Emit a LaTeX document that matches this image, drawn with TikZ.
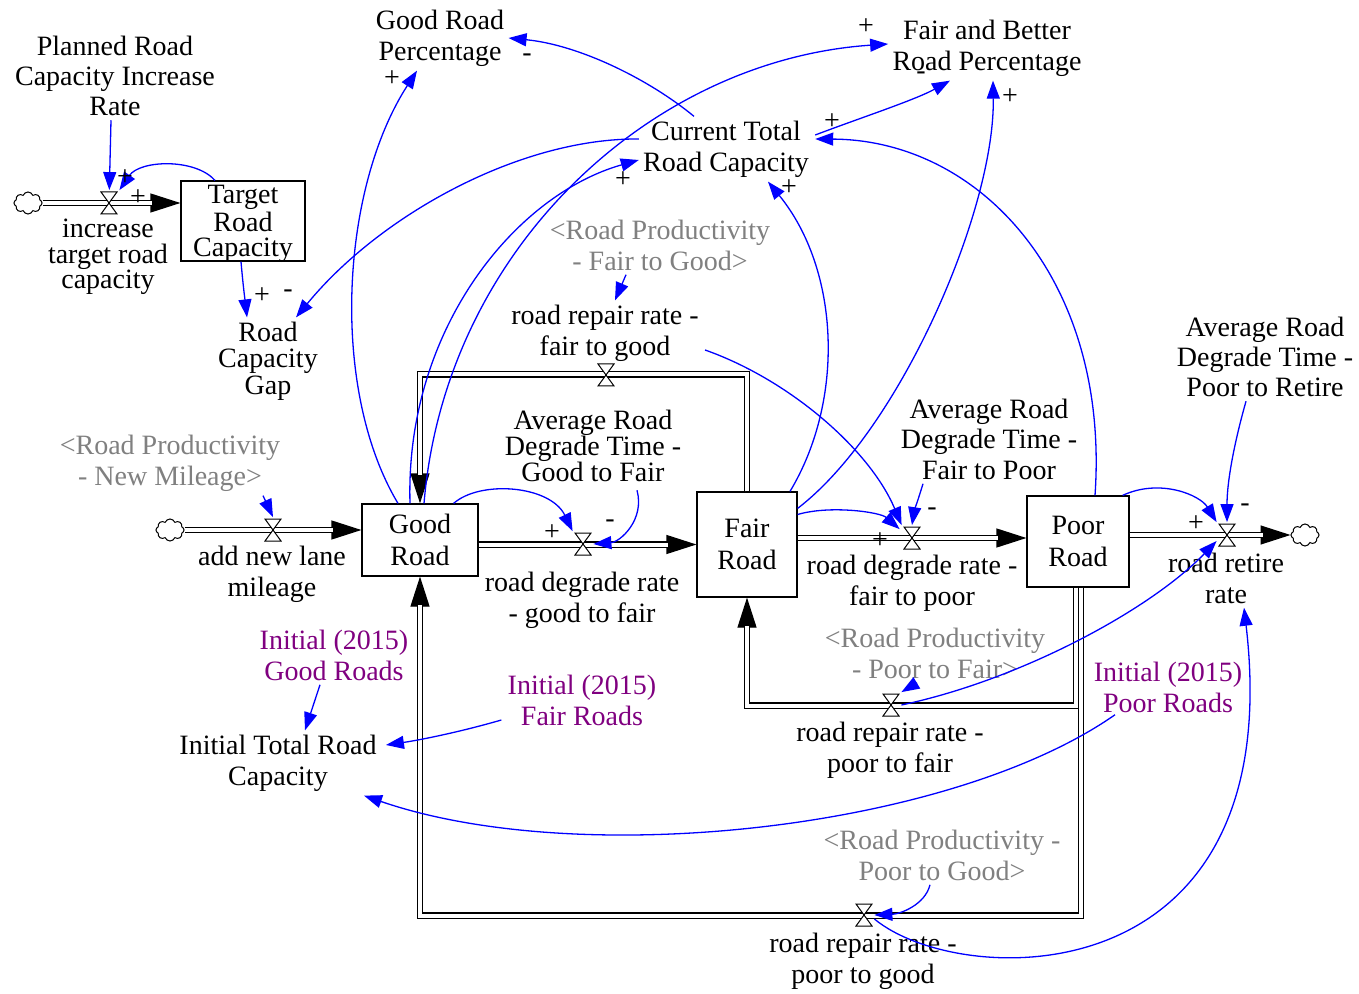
\documentclass[tikz,border=0pt]{standalone}
\usepackage{fontspec}
\setmainfont{Liberation Serif}
\usetikzlibrary{arrows.meta,shapes.symbols,calc}
\definecolor{linkblue}{RGB}{0,0,255}
\definecolor{shadowgray}{RGB}{128,128,128}
\definecolor{initpurple}{RGB}{128,0,128}
\begin{document}
\begin{tikzpicture}[x=0.5pt,y=-0.5pt,
  txt/.style={align=center,font=\fontsize{14}{15.5}\selectfont,inner sep=2pt},
  shadowvar/.style={txt,text=shadowgray},
  initvar/.style={txt,text=initpurple},
  stock/.style={draw,line width=0.6pt,fill=white,align=center,inner sep=0pt,font=\fontsize{14}{16}\selectfont},
  source/.style={cloud,cloud puffs=8,cloud puff arc=140,aspect=1.3,draw,line width=0.5pt,
    minimum width=14pt,minimum height=11pt,inner sep=0pt},
  valve/.style={inner sep=0pt,minimum width=10pt,minimum height=12.5pt,
    path picture={\draw[line width=0.5pt,fill=white]
      ([shift={(-4pt,5.5pt)}]path picture bounding box.center) --
      ([shift={(4pt,5.5pt)}]path picture bounding box.center) --
      ([shift={(-4pt,-5.5pt)}]path picture bounding box.center) --
      ([shift={(4pt,-5.5pt)}]path picture bounding box.center) -- cycle;}},
  pipe/.style={draw=black,double=white,double distance=2pt,line width=0.6pt},
  pipehead/.style={draw=black,line width=0.6pt,-{Triangle[length=15pt,width=9.5pt]}},
  link/.style={draw=linkblue,line width=0.65pt,-{Triangle[length=9pt,width=6.5pt]}},
  sign/.style={font=\fontsize{14}{14}\selectfont,inner sep=0pt}
]
\fill[white] (0,0) rectangle (1359,994);
\useasboundingbox (0,0) rectangle (1359,994);

% ---------- stocks ----------
\node[stock,minimum width=62pt,minimum height=40pt,text depth=0pt,font=\fontsize{14}{12.5}\selectfont] (target) at (243,221) {Target\\Road\\Capacity};
\node[stock,minimum width=58pt,minimum height=36pt] (good) at (420,540) {Good\\Road};
\node[stock,minimum width=50pt,minimum height=52.5pt] (fair) at (747,544.5) {Fair\\Road};
\node[stock,minimum width=51pt,minimum height=45.5pt] (poor) at (1078,541.5) {Poor\\Road};

% ---------- sources and sinks ----------
\node[source] (cl1) at (28,203) {};
\node[source] (cl2) at (170,530) {};
\node[source] (cl3) at (1305,535) {};

% ---------- flow pipes ----------
\path[pipehead] (cl1.east) -- (target.west |- cl1.east);
\path[pipe,shorten >=14pt] (cl1.east) -- (target.west |- cl1.east);

\path[pipehead] (cl2.east) -- (good.west |- cl2.east);
\path[pipe,shorten >=14pt] (cl2.east) -- (good.west |- cl2.east);

\path[pipehead] (good.east |- fair.west) -- (fair.west);
\path[pipe,shorten >=14pt] (good.east |- fair.west) -- (fair.west);

\path[pipehead] (fair.east |- 0,538) -- (poor.west |- 0,538);
\path[pipe,shorten >=14pt] (fair.east |- 0,538) -- (poor.west |- 0,538);

\path[pipehead] (poor.east |- cl3.west) -- (cl3.west);
\path[pipe,shorten >=14pt] (poor.east |- cl3.west) -- (cl3.west);

\path[pipehead] (fair.north) -- ++(0,-117) -| (good.north);
\path[pipe,shorten >=14pt] (fair.north) -- ++(0,-117) -| (good.north);

\path[pipehead] ([xshift=-1pt]poor.south) -- ++(0,118) -| (fair.south);
\path[pipe,shorten >=14pt] ([xshift=-1pt]poor.south) -- ++(0,118) -| (fair.south);

\path[pipehead] ([xshift=1.5pt]poor.south) -- ++(0,328) -| (good.south);
\path[pipe,shorten >=14pt] ([xshift=1.5pt]poor.south) -- ++(0,328) -| (good.south);

% ---------- valves ----------
\node[valve] (vinc) at (109,203) {};
\node[valve] (vanl) at (273,530) {};
\node[valve] (vgf) at (583,544) {};
\node[valve] (vfp) at (912,538) {};
\node[valve] (vret) at (1227,535) {};
\node[valve] (vfg) at (606,375) {};
\node[valve] (vpf) at (891,705) {};
\node[valve] (vpg) at (864,915) {};

% ---------- flow names ----------
\node[txt,font=\fontsize{14}{12.75}\selectfont] (inclbl) at (108,257) {increase\\target road\\capacity};
\node[txt] (anllbl) at (272,574) {add new lane\\mileage};
\node[txt] (gflbl) at (582,600) {road degrade rate\\- good to fair};
\node[txt] (fplbl) at (912,583) {road degrade rate -\\fair to poor};
\node[txt] (retlbl) at (1226,578) {road retire\\rate};
\node[txt] (fglbl) at (605,333) {road repair rate -\\fair to good};
\node[txt] (pflbl) at (890,750) {road repair rate -\\poor to fair};
\node[txt] (pglbl) at (863,961) {road repair rate -\\poor to good};

% ---------- auxiliaries ----------
\node[txt,font=\fontsize{14}{15}\selectfont] (planned) at (115,76) {Planned Road\\Capacity Increase\\Rate};
\node[txt] (grp) at (440,38) {Good Road\\Percentage};
\node[txt] (fb) at (987,48) {Fair and Better\\Road Percentage};
\node[txt] (ctc) at (726,149) {Current Total\\Road Capacity};
\node[txt,font=\fontsize{14}{13.25}\selectfont] (gap) at (268,361) {Road\\Capacity\\Gap};
\node[txt,font=\fontsize{14}{13}\selectfont] (avggf) at (593,446) {Average Road\\Degrade Time -\\Good to Fair};
\node[txt,font=\fontsize{14}{15.25}\selectfont] (avgfp) at (989,439) {Average Road\\Degrade Time -\\Fair to Poor};
\node[txt,font=\fontsize{14}{15}\selectfont] (avgpr) at (1265,357) {Average Road\\Degrade Time -\\Poor to Retire};
\node[txt] (itrc) at (278,763) {Initial Total Road\\Capacity};

\node[shadowvar] (gfg) at (660,245) {<Road Productivity\\- Fair to Good>};
\node[shadowvar] (gnm) at (170,463) {<Road Productivity\\- New Mileage>};
\node[shadowvar] (gpf) at (935,653) {<Road Productivity\\- Poor to Fair>};
\node[shadowvar] (gpg) at (942,855) {<Road Productivity -\\Poor to Good>};

\node[initvar] (ig) at (334,655) {Initial (2015)\\Good Roads};
\node[initvar] (ifr) at (582,700) {Initial (2015)\\Fair Roads};
\node[initvar] (ipr) at (1168,687) {Initial (2015)\\Poor Roads};

% ---------- causal links ----------
\draw[link] ([shift={(-4,0)}]planned.south) -- (vinc);
\draw[link] ([shift={(-28,0)}]target.north) .. controls (195,158) and (140,160) .. (vinc.north east);
\draw[link] ([shift={(-2,0)}]target.south) .. controls (243,285) and (245,300) .. ([shift={(-21,0)}]gap.north);
\draw[link] ([shift={(0,-10)}]ctc.west) .. controls (520,138) and (380,215) .. ([shift={(28,0)}]gap.north);
\draw[link] ([shift={(-10,0)}]good.north) .. controls (405,330) and (515,195) .. ([shift={(0,11)}]ctc.west);
\draw[link] ([shift={(4,0)}]good.north) .. controls (445,250) and (650,60) .. ([shift={(0,-4)}]fb.west);
\draw[link] ([shift={(-22,0)}]good.north) .. controls (330,390) and (340,190) .. ([shift={(-23,0)}]grp.south);
\draw[link] ([shift={(-32,0)}]ctc.north) .. controls (650,80) and (580,45) .. (grp.east);
\draw[link] ([shift={(2,-14)}]ctc.east) .. controls (860,118) and (915,100) .. ([shift={(-37,0)}]fb.south);
\draw[link] ([shift={(17,0)}]poor.north) .. controls (1110,280) and (980,140) .. ([shift={(2,-10)}]ctc.east);
\draw[link] ([shift={(43,0)}]fair.north) .. controls (845,400) and (840,270) .. ([shift={(42,0)}]ctc.south);
\draw[link] ([shift={(0,17)}]fair.north east) .. controls (900,430) and (995,210) .. ([shift={(6,0)}]fb.south);
\draw[link] ([shift={(-25,0)}]good.north east) .. controls (480,480) and (550,485) .. (vgf.north west);
\draw[link] ([shift={(44,4)}]avggf.south) .. controls (645,520) and (620,542) .. (vgf.east);
\draw[link] ([shift={(2,17)}]fglbl.east) .. controls (790,380) and (870,450) .. (vfp.north west);
\draw[link] ([shift={(-66,0)}]avgfp.south) .. controls (918,500) and (914,512) .. (vfp.north);
\draw[link] ([shift={(0,-30)}]fair.east) .. controls (830,505) and (880,512) .. ([shift={(-2,4)}]vfp.north west);
\draw[link] ([shift={(-7,0)}]poor.north east) .. controls (1160,478) and (1200,495) .. (vret.north west);
\draw[link] ([shift={(-19,0)}]avgpr.south) .. controls (1235,440) and (1227,480) .. (vret.north);
\draw[link] (vpf.east) .. controls (1020,680) and (1150,610) .. ([shift={(0,6)}]vret.west);
\draw[link] ([shift={(-18,0)}]gpf.south) -- (vpf.north east);
\draw[link] ([shift={(0,4)}]vpg.east) .. controls (960,990) and (1290,1000) .. ([shift={(18,0)}]retlbl.south);
\draw[link] ([shift={(-12,0)}]gpg.south) .. controls (925,905) and (900,914) .. (vpg.east);
\draw[link] ([shift={(-34,0)}]gfg.south) -- ([shift={(10,0)}]fglbl.north);
\draw[link] ([shift={(93,0)}]gnm.south) -- (vanl.north);
\draw[link] ([shift={(-14,0)}]ig.south) -- ([shift={(27,0)}]itrc.north);
\draw[link] ([shift={(-2,20)}]ifr.west) .. controls (460,732) and (420,740) .. ([shift={(5,-18)}]itrc.east);
\draw[link] ([shift={(-53,-2)}]ipr.south) .. controls (950,830) and (580,870) .. ([shift={(86,0)}]itrc.south);

% ---------- polarity signs ----------
\node[sign] (p1) at (125,178) {+};
\node[sign] (p2) at (138,198) {+};
\node[sign] (p3) at (262,296) {+};
\node[sign] (p4) at (288,294) {-};
\node[sign] (p5) at (392,79) {+};
\node[sign] (p6) at (527,58) {-};
\node[sign] (p7) at (866,27) {+};
\node[sign] (p8) at (921,76) {-};
\node[sign] (p9) at (1010,97) {+};
\node[sign] (p10) at (832,122) {+};
\node[sign] (p11) at (623,180) {+};
\node[sign] (p12) at (789,188) {+};
\node[sign] (p13) at (552,533) {+};
\node[sign] (p14) at (610,524) {-};
\node[sign] (p15) at (932,512) {-};
\node[sign] (p16) at (880,541) {+};
\node[sign] (p17) at (1196,524) {+};
\node[sign] (p18) at (1245,508) {-};
\end{tikzpicture}
\end{document}
